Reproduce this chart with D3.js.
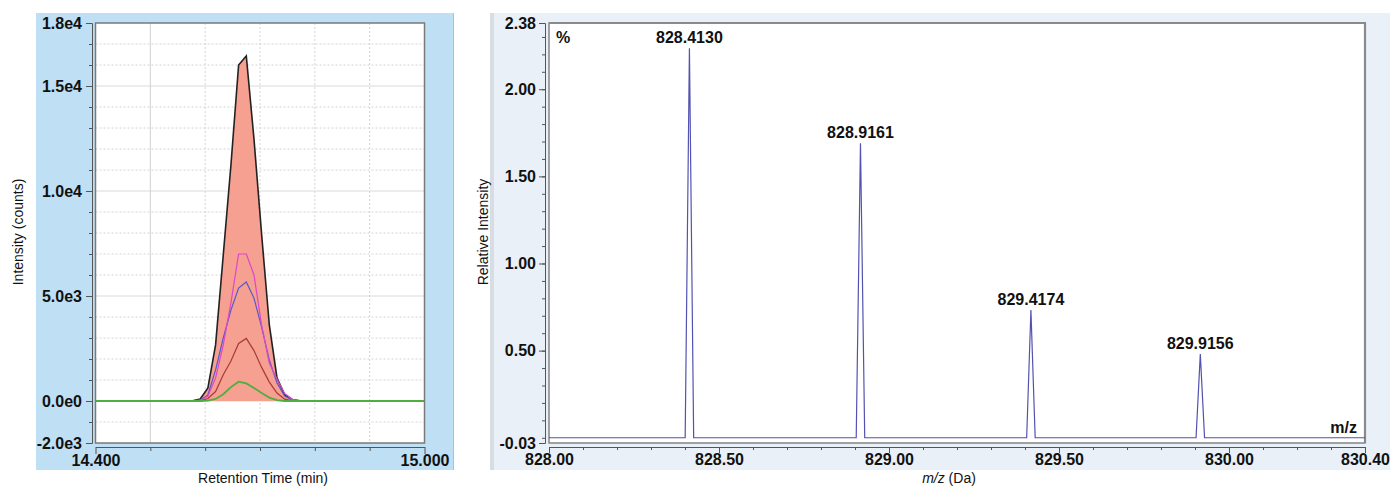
<!DOCTYPE html>
<html>
<head>
<meta charset="utf-8">
<script src="https://cdn.jsdelivr.net/npm/d3@7"></script>
<style>
  body { margin: 0; background: #fff; }
  svg { display: block; font-family: 'Liberation Sans', Arial, sans-serif; }
  .tick text { font-weight: bold; font-size: 16px; fill: #111; }
  .axis path, .axis line { stroke: #555; }
</style>
</head>
<body>
<script>
// chromatogram (left)
const rtTimes = [14.400, 14.563, 14.577, 14.591, 14.605, 14.619, 14.633, 14.647, 14.661, 14.675, 14.689, 14.703, 14.717, 14.731, 14.745, 14.759, 14.773, 15.000]
const rtTotal = [0, 0, 10, 95, 620, 2670, 6950, 11240, 16000, 16430, 12480, 7920, 3620, 1100, 290, 70, 10, 0]
const rtPink = [0, 0, 5, 40, 240, 1100, 2670, 4670, 7000, 7000, 6000, 3600, 1800, 1050, 360, 80, 0, 0]
const rtBlue = [0, 0, 0, 40, 290, 1480, 3000, 4330, 5380, 5670, 4900, 3520, 1950, 860, 240, 50, 0, 0]
const rtRed = [0, 0, 0, 10, 120, 450, 1250, 1900, 2740, 2980, 2400, 1600, 900, 380, 90, 10, 0, 0]
const rtGreen = [0, 0, 0, 0, 20, 100, 320, 660, 920, 840, 620, 380, 160, 40, 0, 0, 0, 0]
const rtYTicks = [18000, 15000, 10000, 5000, 0, -2000]
const rtYLabels = ['1.8e4', '1.5e4', '1.0e4', '5.0e3', '0.0e0', '-2.0e3']
const rtXTicks = [14.4, 15.0]
const rtXLabels = ['14.400', '15.000']

// mass spectrum (right)
const peakMz = [828.4130, 828.9161, 829.4174, 829.9156]
const peakLabels = ['828.4130', '828.9161', '829.4174', '829.9156']
const specMz = [828.0000,
  828.4005, 828.4130, 828.4255,
  828.9036, 828.9161, 828.9286,
  829.4049, 829.4174, 829.4299,
  829.9031, 829.9156, 829.9281,
  830.4000]
const specInt = [0,
  0, 2.235, 0,
  0, 1.69, 0,
  0, 0.733, 0,
  0, 0.48, 0,
  0]
const msYTicks = [2.38, 2.0, 1.5, 1.0, 0.5, -0.03]
const msYLabels = ['2.38', '2.00', '1.50', '1.00', '0.50', '-0.03']
const msXTicks = [828.0, 828.5, 829.0, 829.5, 830.0, 830.4]
const msXLabels = ['828.00', '828.50', '829.00', '829.50', '830.00', '830.40']

;(function () {
  const svg = d3.select('body').append('svg').attr('width', 1390).attr('height', 486)

  // ---------- left panel ----------
  const L = { left: 95.5, right: 424.5, top: 23, bottom: 443 }
  const xL = d3.scaleLinear().domain([14.4, 15.0]).range([L.left, L.right])
  const yL = d3.scaleLinear().domain([-2000, 18000]).range([L.bottom, L.top])

  svg.append('rect').attr('x', 36).attr('y', 13).attr('width', 417).attr('height', 457).attr('fill', '#bfdff4')
  svg.append('line').attr('x1', 453.5).attr('x2', 453.5).attr('y1', 13).attr('y2', 470)
    .attr('stroke', '#f0b070').attr('stroke-width', 1)
  svg.append('rect').attr('x', L.left).attr('y', L.top).attr('width', L.right - L.left).attr('height', L.bottom - L.top).attr('fill', '#fff')

  const thousands = d3.range(-1000, 18000, 1000)
  const grid = svg.append('g')
  grid.selectAll('line.h').data(thousands).enter().append('line')
    .attr('x1', L.left).attr('x2', L.right)
    .attr('y1', (d) => yL(d)).attr('y2', (d) => yL(d))
    .attr('stroke', (d) => (d % 5000 === 0 ? '#dadada' : '#d4d4d4'))
    .attr('stroke-dasharray', (d) => (d % 5000 === 0 ? null : '2,2'))
  const tenths = [14.5, 14.6, 14.7, 14.8, 14.9]
  grid.selectAll('line.v').data(tenths).enter().append('line')
    .attr('x1', (d) => xL(d)).attr('x2', (d) => xL(d))
    .attr('y1', L.top).attr('y2', L.bottom)
    .attr('stroke', (d) => (d === 14.5 ? '#d0d0d0' : '#d4d4d4'))
    .attr('stroke-dasharray', (d) => (d === 14.5 ? null : '2,2'))

  const pts = (vals) => rtTimes.map((t, i) => [t, vals[i]])
  const area = d3.area().x((d) => xL(d[0])).y0(yL(0)).y1((d) => yL(d[1]))
  const line = d3.line().x((d) => xL(d[0])).y((d) => yL(d[1]))

  svg.append('path').attr('d', area(pts(rtTotal))).attr('fill', '#f5a090')
  svg.append('path').attr('d', line(pts(rtTotal))).attr('fill', 'none').attr('stroke', '#222').attr('stroke-width', 1.6)
  const series = [
    { v: rtRed, c: '#a83a3a', w: 1.2 },
    { v: rtBlue, c: '#5858c8', w: 1.2 },
    { v: rtPink, c: '#dc48c8', w: 1.2 },
    { v: rtGreen, c: '#4fae3f', w: 1.8 },
  ]
  series.forEach((s) => {
    svg.append('path').attr('d', line(pts(s.v))).attr('fill', 'none').attr('stroke', s.c).attr('stroke-width', s.w)
  })

  svg.append('rect').attr('x', L.left).attr('y', L.top).attr('width', L.right - L.left).attr('height', L.bottom - L.top)
    .attr('fill', 'none').attr('stroke', '#7a7a7a').attr('stroke-width', 1.5)

  // y axis
  const yAxL = svg.append('g').attr('class', 'axis').attr('transform', 'translate(92,0)')
  yAxL.call(d3.axisLeft(yL).tickValues(thousands.concat([-2000, 18000])).tickSize(3).tickSizeOuter(0).tickFormat(''))
  yAxL.append('g').call(d3.axisLeft(yL).tickValues(rtYTicks).tickSize(6).tickPadding(4).tickSizeOuter(0)
    .tickFormat((d, i) => rtYLabels[i]))

  // x axis
  const xAxL = svg.append('g').attr('class', 'axis').attr('transform', 'translate(0,447)')
  xAxL.call(d3.axisBottom(xL).tickValues(tenths).tickSize(4).tickSizeOuter(0).tickFormat(''))
  xAxL.append('g').call(d3.axisBottom(xL).tickValues(rtXTicks).tickSize(7).tickPadding(1).tickSizeOuter(0)
    .tickFormat((d, i) => rtXLabels[i]))

  svg.append('text').attr('transform', 'translate(23,232) rotate(-90)').attr('text-anchor', 'middle')
    .attr('font-size', 14).attr('fill', '#111').text('Intensity (counts)')
  svg.append('text').attr('x', 263).attr('y', 483).attr('text-anchor', 'middle')
    .attr('font-size', 14).attr('fill', '#111').text('Retention Time (min)')

  // ---------- right panel ----------
  const R = { left: 549, right: 1365, top: 23, bottom: 443 }
  const xR = d3.scaleLinear().domain([828.0, 830.4]).range([R.left, R.right])
  const yR = d3.scaleLinear().domain([-0.03, 2.38]).range([R.bottom, R.top])

  svg.append('rect').attr('x', 490).attr('y', 13).attr('width', 900).attr('height', 457).attr('fill', '#e9f0f8')
  svg.append('rect').attr('x', 490).attr('y', 13).attr('width', 4).attr('height', 457).attr('fill', '#d8dde4')
  svg.append('rect').attr('x', R.left).attr('y', R.top).attr('width', R.right - R.left).attr('height', R.bottom - R.top)
    .attr('fill', '#fff').attr('stroke', '#858585').attr('stroke-width', 1.5)
  svg.append('path').attr('d', `M${R.left},${R.top}H${R.right}V${R.bottom}`)
    .attr('fill', 'none').attr('stroke', '#8a8a8a').attr('stroke-width', 2.2)

  const specPts = specMz.map((m, i) => [m, specInt[i]])
  const specLine = d3.line().x((d) => xR(d[0])).y((d) => yR(d[1]))
  svg.append('path').attr('d', specLine(specPts)).attr('fill', 'none').attr('stroke', '#5252b0').attr('stroke-width', 1.2)

  svg.append('g').selectAll('text').data(peakMz).enter().append('text')
    .attr('x', (d) => xR(d))
    .attr('y', (d) => yR(specInt[specMz.indexOf(d)]) - 5)
    .attr('text-anchor', 'middle').attr('font-size', 16).attr('font-weight', 'bold').attr('fill', '#111')
    .text((d, i) => peakLabels[i])

  svg.append('text').attr('x', 556).attr('y', 43).attr('font-size', 16).attr('font-weight', 'bold').attr('fill', '#111').text('%')
  svg.append('text').attr('x', 1357).attr('y', 433).attr('text-anchor', 'end').attr('font-size', 16).attr('font-weight', 'bold').attr('fill', '#111').text('m/z')

  const msMinorY = d3.range(0, 24).map((d) => d / 10)
  const yAxR = svg.append('g').attr('class', 'axis').attr('transform', 'translate(545,0)')
  yAxR.call(d3.axisLeft(yR).tickValues(msMinorY).tickSize(3).tickSizeOuter(0).tickFormat(''))
  yAxR.append('g').call(d3.axisLeft(yR).tickValues(msYTicks).tickSize(6).tickPadding(3).tickSizeOuter(0)
    .tickFormat((d, i) => msYLabels[i]))

  const msMinorX = d3.range(0, 25).map((d) => 828 + d / 10)
  const xAxR = svg.append('g').attr('class', 'axis').attr('transform', 'translate(0,447)')
  xAxR.call(d3.axisBottom(xR).tickValues(msMinorX).tickSize(3).tickSizeOuter(0).tickFormat(''))
  xAxR.append('g').call(d3.axisBottom(xR).tickValues(msXTicks).tickSize(6).tickPadding(1).tickSizeOuter(0)
    .tickFormat((d, i) => msXLabels[i]))

  svg.append('text').attr('transform', 'translate(488,232) rotate(-90)').attr('text-anchor', 'middle')
    .attr('font-size', 14).attr('fill', '#111').text('Relative Intensity')
  const xt = svg.append('text').attr('x', 949).attr('y', 483).attr('text-anchor', 'middle').attr('font-size', 14).attr('fill', '#111')
  xt.append('tspan').attr('font-style', 'italic').text('m/z')
  xt.append('tspan').text(' (Da)')
})()
</script>
</body>
</html>
